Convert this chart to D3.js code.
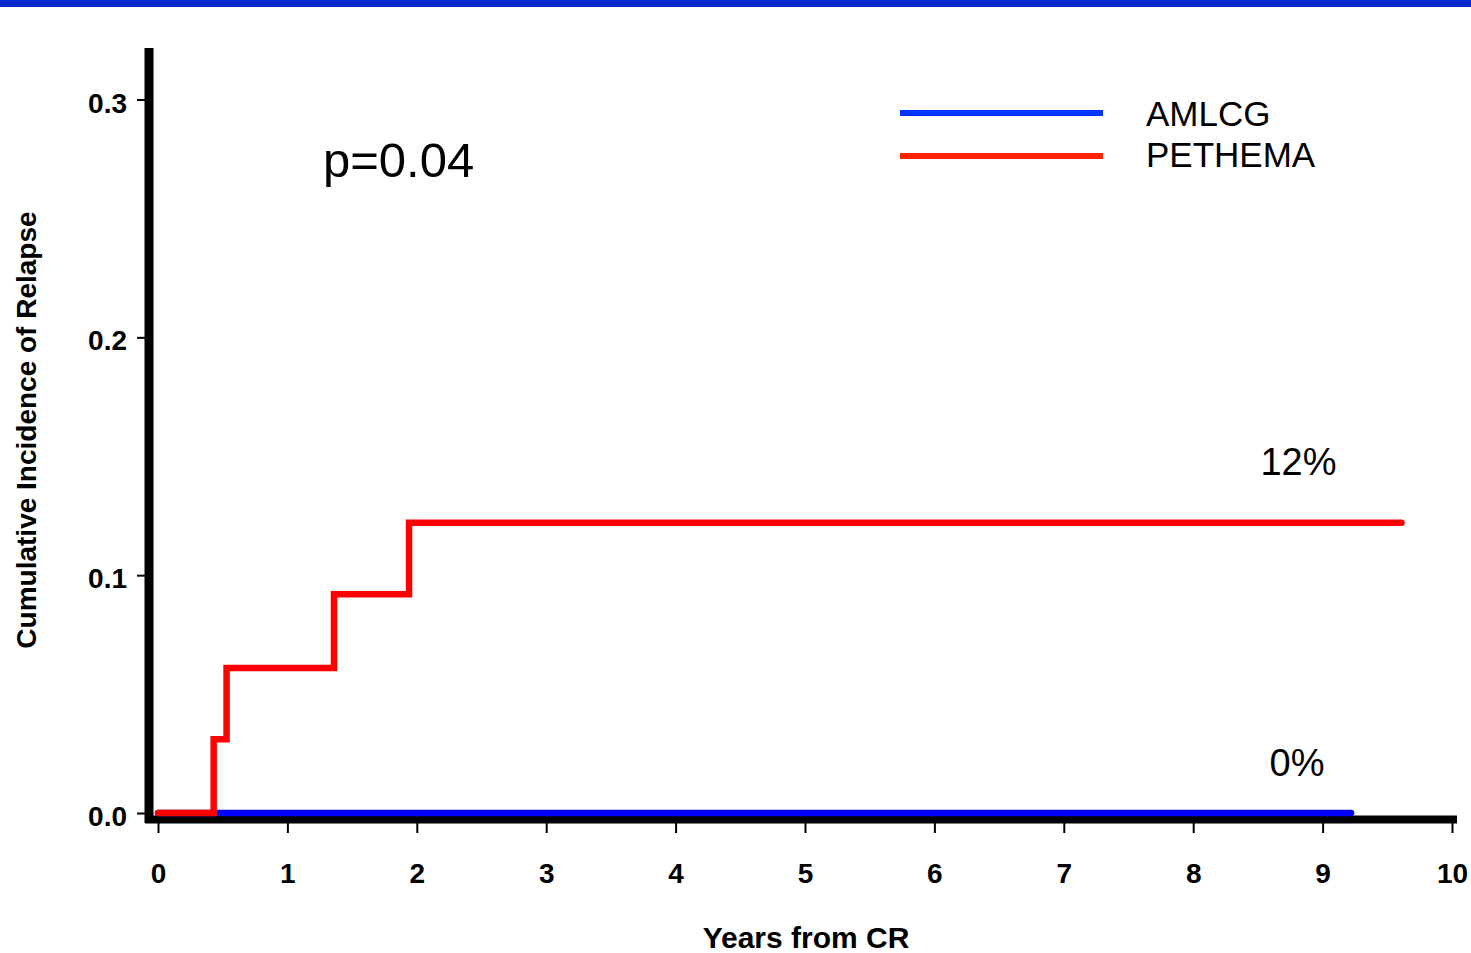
<!DOCTYPE html>
<html>
<head>
<meta charset="utf-8">
<script src="https://cdn.jsdelivr.net/npm/d3@7"></script>
<style>
  html, body { margin: 0; padding: 0; background: #fff; }
  svg { display: block; font-family: 'Liberation Sans', Arial, sans-serif; }
</style>
</head>
<body>
<div id="chart"></div>
<script>
// step curves: [years from CR, cumulative incidence]
const amlcg = [[0, 0], [9.22, 0]]
const pethema = [[0, 0], [0.43, 0.031], [0.53, 0.061], [1.36, 0.092], [1.94, 0.122], [9.61, 0.122]]
const xTicks = [0, 1, 2, 3, 4, 5, 6, 7, 8, 9, 10]
const yTicks = [0, 0.1, 0.2, 0.3]
const legendItems = [
  { label: 'AMLCG', color: '#0033ff' },
  { label: 'PETHEMA', color: '#ff2200' }
]
const endLabels = [
  { text: '12%', x: 8.52, y: 0.142 },
  { text: '0%', x: 8.59, y: 0.0155 }
]

const width = 1471
const height = 953

const svg = d3.select('#chart')
  .append('svg')
  .attr('width', width)
  .attr('height', height)

// blue band across the top of the slide
svg.append('rect')
  .attr('x', 0).attr('y', 0)
  .attr('width', width).attr('height', 7)
  .attr('fill', '#0628cc')

const x = d3.scaleLinear().domain([0, 10]).range([158, 1452])
const y = d3.scaleLinear().domain([0, 0.3]).range([813, 99.5])

// ── AXES ───────────────────────────────────────────────
const yAxis = svg.append('g')
  .attr('transform', 'translate(145,0)')
  .call(d3.axisLeft(y).tickValues(yTicks).tickFormat(d3.format('.1f')).tickSize(8).tickPadding(10).tickSizeOuter(0))
yAxis.select('.domain').remove()
yAxis.selectAll('.tick line').attr('stroke', '#000').attr('stroke-width', 2)
yAxis.selectAll('.tick text')
  .attr('font-size', 28).attr('font-weight', 'bold').attr('fill', '#000')
  .attr('font-family', "'Liberation Sans', Arial, sans-serif")
  .attr('dy', '0.45em')

const xAxis = svg.append('g')
  .attr('transform', 'translate(0,823)')
  .call(d3.axisBottom(x).tickValues(xTicks).tickFormat(d3.format('d')).tickSize(10).tickPadding(30).tickSizeOuter(0))
xAxis.select('.domain').remove()
xAxis.selectAll('.tick line').attr('stroke', '#000').attr('stroke-width', 2)
xAxis.selectAll('.tick text')
  .attr('font-size', 28).attr('font-weight', 'bold').attr('fill', '#000')
  .attr('font-family', "'Liberation Sans', Arial, sans-serif")

// heavy axis lines
svg.append('line')
  .attr('x1', 149).attr('x2', 149)
  .attr('y1', 48).attr('y2', 823)
  .attr('stroke', '#000').attr('stroke-width', 9)
svg.append('line')
  .attr('x1', 145).attr('x2', 1457)
  .attr('y1', 819.5).attr('y2', 819.5)
  .attr('stroke', '#000').attr('stroke-width', 8)

// ── CURVES ─────────────────────────────────────────────
const line = d3.line()
  .x(d => x(d[0]))
  .y(d => y(d[1]))
  .curve(d3.curveStepAfter)

svg.append('path')
  .datum(amlcg)
  .attr('d', line)
  .attr('fill', 'none')
  .attr('stroke', '#0000ff')
  .attr('stroke-width', 6.5)
  .attr('stroke-linecap', 'round')

svg.append('path')
  .datum(pethema)
  .attr('d', line)
  .attr('fill', 'none')
  .attr('stroke', '#ff0000')
  .attr('stroke-width', 6.5)
  .attr('stroke-linecap', 'round')

// ── LABELS ─────────────────────────────────────────────
svg.append('text')
  .attr('x', 806).attr('y', 948)
  .attr('text-anchor', 'middle')
  .attr('font-size', 30).attr('font-weight', 'bold')
  .text('Years from CR')

svg.append('text')
  .attr('transform', 'translate(36,430) rotate(-90)')
  .attr('text-anchor', 'middle')
  .attr('font-size', 28).attr('font-weight', 'bold')
  .text('Cumulative Incidence of Relapse')

svg.append('text')
  .attr('x', 323).attr('y', 177)
  .attr('font-size', 49)
  .text('p=0.04')

svg.selectAll('.end-label')
  .data(endLabels)
  .join('text')
  .attr('class', 'end-label')
  .attr('x', d => x(d.x))
  .attr('y', d => y(d.y))
  .attr('font-size', 38)
  .text(d => d.text)

// ── LEGEND ─────────────────────────────────────────────
const legend = svg.append('g').attr('transform', 'translate(900,0)')
const rows = legend.selectAll('g')
  .data(legendItems)
  .join('g')

rows.append('line')
  .attr('x1', 0).attr('x2', 203)
  .attr('y1', (d, i) => 113 + i * 43)
  .attr('y2', (d, i) => 113 + i * 43)
  .attr('stroke', d => d.color)
  .attr('stroke-width', 6)

rows.append('text')
  .attr('x', 246)
  .attr('y', (d, i) => 126 + i * 41)
  .attr('font-size', 35)
  .text(d => d.label)
</script>
</body>
</html>
